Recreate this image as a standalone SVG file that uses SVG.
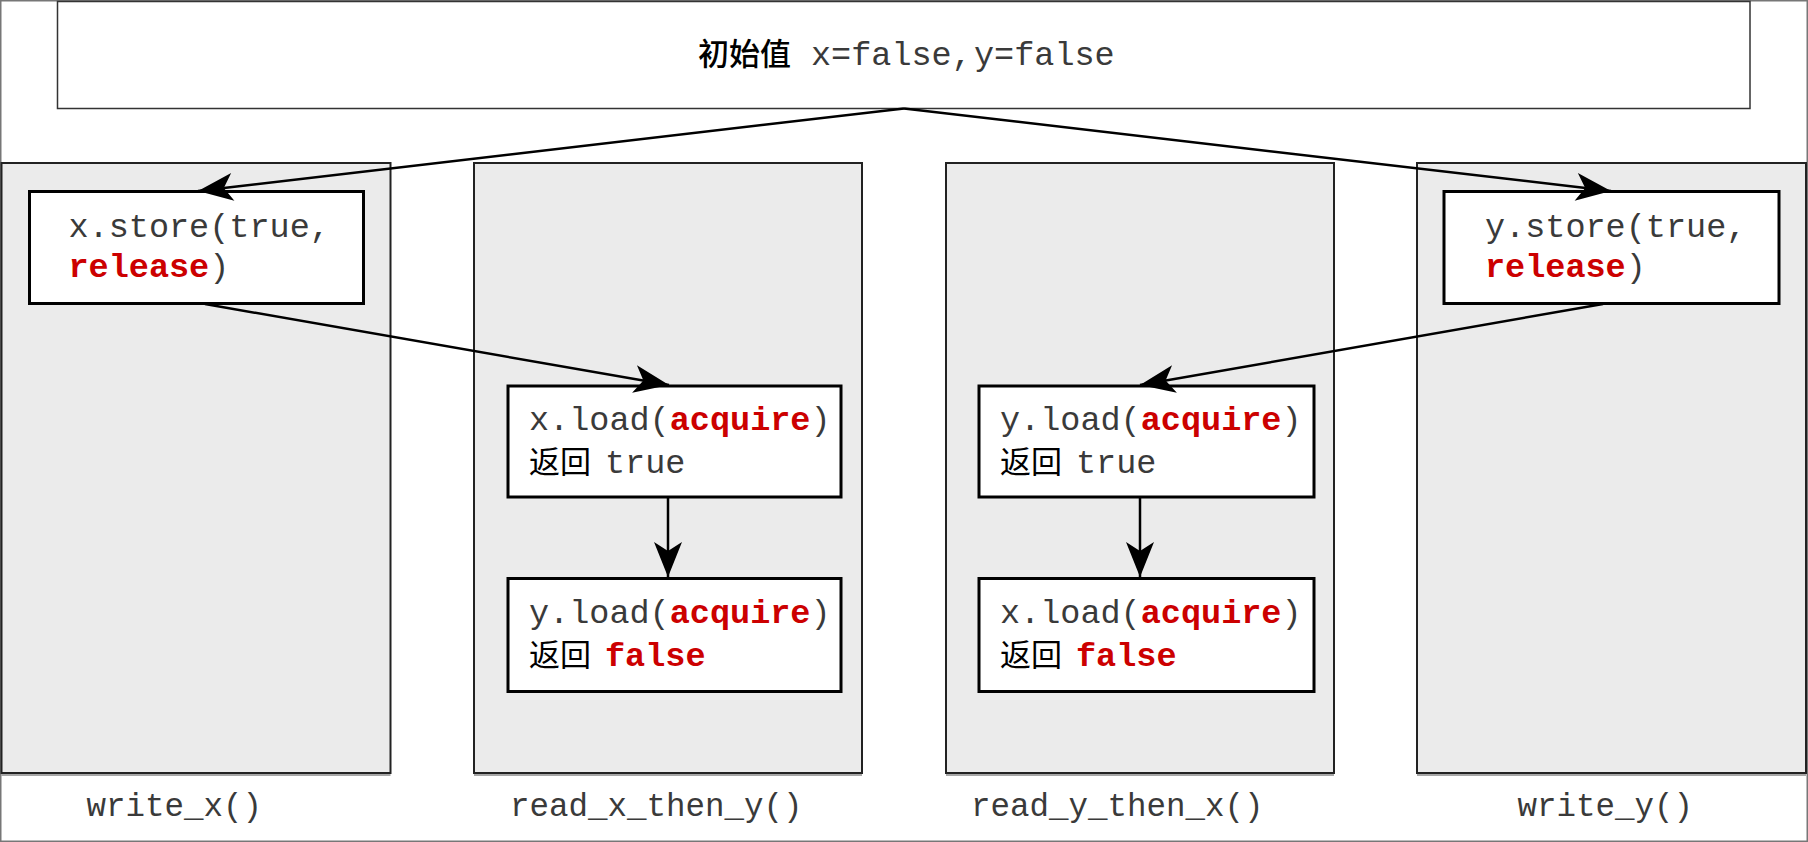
<svg xmlns="http://www.w3.org/2000/svg" width="1808" height="842" viewBox="0 0 1808 842">
<style>
.frame{fill:none;stroke:#777;stroke-width:1.5}
.top{fill:#fff;stroke:#333;stroke-width:1.5}
.lane{fill:#ebebeb;stroke:#222;stroke-width:2}
.shadow{stroke:#888;stroke-width:1.5}
.box{fill:#fff;stroke:#000;stroke-width:3}
.mono{font-family:"Liberation Mono","DejaVu Sans Mono",monospace;font-size:33.5px;fill:#3a3a3a}
.kw{font-weight:bold;fill:#cc0000}
.cjk{font-family:"Noto Sans CJK SC","Noto Sans CJK JP",sans-serif;font-size:31px;fill:#000}
.lbl{font-family:"Liberation Mono","DejaVu Sans Mono",monospace;font-size:32.5px;fill:#3a3a3a}
.conn line{stroke:#000;stroke-width:2.5;marker-end:url(#ah)}
</style>
<defs>
<marker id="ah" markerUnits="userSpaceOnUse" markerWidth="44" markerHeight="32" refX="35" refY="14" orient="auto" overflow="visible">
<path d="M35,14 L0,0 L9,14 L0,28 Z" fill="#000"/>
</marker>
</defs>
<rect class="frame" x="0.75" y="0.75" width="1806.5" height="840.5"/>
<g id="init">
<rect class="top" x="57.5" y="1.5" width="1692.5" height="107"/>
<text x="698" y="65"><tspan class="cjk" font-size="32px" font-weight="500">初始值</tspan><tspan class="mono" x="811" font-size="33px">x=false,</tspan><tspan class="mono" x="974" font-size="33px">y=false</tspan></text>
</g>
<g id="lane-write_x">
<rect class="lane" x="1.5" y="163" width="389" height="610"/>
<line class="shadow" x1="1.5" y1="775" x2="390.5" y2="775"/>
<text class="lbl" x="86.5" y="816">write_x()</text>
</g>
<g id="lane-read_x_then_y">
<rect class="lane" x="474" y="163" width="388" height="610"/>
<line class="shadow" x1="474" y1="775" x2="862" y2="775"/>
<text class="lbl" x="510" y="816">read_x_then_y()</text>
</g>
<g id="lane-read_y_then_x">
<rect class="lane" x="946" y="163" width="388" height="610"/>
<line class="shadow" x1="946" y1="775" x2="1334" y2="775"/>
<text class="lbl" x="971" y="816">read_y_then_x()</text>
</g>
<g id="lane-write_y">
<rect class="lane" x="1417" y="163" width="389" height="610"/>
<line class="shadow" x1="1417" y1="775" x2="1806" y2="775"/>
<text class="lbl" x="1517.5" y="816">write_y()</text>
</g>
<g id="x-store">
<rect class="box" x="29.5" y="191.5" width="334" height="112"/>
<text class="mono" x="68.5" y="236.5">x.store(true,</text>
<text class="mono" x="68.5" y="276.5"><tspan class="kw">release</tspan>)</text>
</g>
<g id="y-store">
<rect class="box" x="1444" y="191.5" width="335" height="112"/>
<text class="mono" x="1485" y="236.5">y.store(true,</text>
<text class="mono" x="1485" y="276.5"><tspan class="kw">release</tspan>)</text>
</g>
<g id="x-load-1">
<rect class="box" x="508" y="386" width="333" height="111"/>
<text class="mono" x="529" y="430">x.load(<tspan class="kw">acquire</tspan>)</text>
<text x="529" y="473"><tspan class="cjk">返回</tspan><tspan class="mono" x="605">true</tspan></text>
</g>
<g id="y-load-1">
<rect class="box" x="508" y="578.5" width="333" height="113"/>
<text class="mono" x="529" y="623">y.load(<tspan class="kw">acquire</tspan>)</text>
<text x="529" y="666"><tspan class="cjk">返回</tspan><tspan class="mono kw" x="605">false</tspan></text>
</g>
<g id="y-load-2">
<rect class="box" x="979" y="386" width="335" height="111"/>
<text class="mono" x="1000" y="430">y.load(<tspan class="kw">acquire</tspan>)</text>
<text x="1000" y="473"><tspan class="cjk">返回</tspan><tspan class="mono" x="1076">true</tspan></text>
</g>
<g id="x-load-2">
<rect class="box" x="979" y="578.5" width="335" height="113"/>
<text class="mono" x="1000" y="623">x.load(<tspan class="kw">acquire</tspan>)</text>
<text x="1000" y="666"><tspan class="cjk">返回</tspan><tspan class="mono kw" x="1076">false</tspan></text>
</g>
<g id="connectors" class="conn">
<line x1="904" y1="108.5" x2="198" y2="191"/>
<line x1="904" y1="108.5" x2="1611" y2="191"/>
<line x1="205" y1="304" x2="669" y2="385"/>
<line x1="1603" y1="304" x2="1140" y2="385"/>
<line x1="668" y1="497" x2="668" y2="577"/>
<line x1="1140" y1="497" x2="1140" y2="577"/>
</g>
</svg>
